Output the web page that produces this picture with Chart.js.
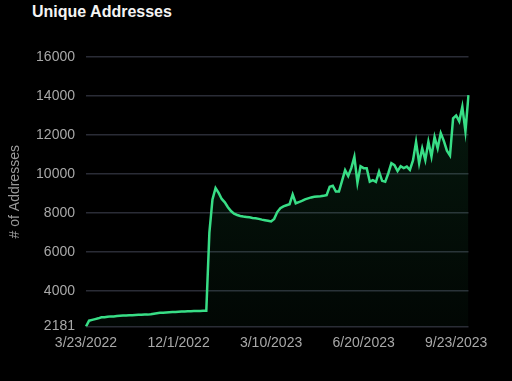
<!DOCTYPE html>
<html>
<head>
<meta charset="utf-8">
<script src="https://cdn.jsdelivr.net/npm/chart.js@4/dist/chart.umd.min.js"></script>
<style>
  html, body { margin: 0; padding: 0; background: #000; }
  body { width: 512px; height: 381px; position: relative; overflow: hidden; }
  #title { position: absolute; left: 32px; top: 3px; line-height: 20px; font: bold 16px "Liberation Sans", Arial, sans-serif; color: #f4f4f4; white-space: nowrap; }
  #wrap { position: absolute; left: 0; top: 0; width: 487px; height: 381px; }
</style>
</head>
<body>
<div id="title">Unique Addresses</div>
<div id="wrap"><canvas id="c"></canvas></div>
<script>
// ---- data ----
const tickLabels = ["3/23/2022", "12/1/2022", "3/10/2023", "6/20/2023", "9/23/2023"];
const pointsPerTick = 30;
const yTicks = [2181, 4000, 6000, 8000, 10000, 12000, 14000, 16000];
const uniqueAddresses = [
  2181, 2480, 2520, 2560, 2600, 2650, 2660, 2680, 2700, 2700,
  2720, 2730, 2740, 2750, 2760, 2760, 2770, 2780, 2780, 2790,
  2790, 2810, 2840, 2860, 2880, 2890, 2900, 2910, 2920, 2930,
  2940, 2950, 2955, 2960, 2965, 2970, 2975, 2980, 2985, 2990,
  7000, 8700, 9280, 9030, 8720, 8550, 8300, 8100, 7970, 7900,
  7850, 7820, 7800, 7780, 7750, 7730, 7700, 7660, 7630, 7600,
  7570, 7700, 8050, 8250, 8340, 8400, 8450, 8950, 8500, 8560,
  8620, 8700, 8750, 8800, 8830, 8850, 8860, 8880, 8920, 9350,
  9400, 9100, 9100, 9650, 10200, 9900, 10300, 10880, 9550, 10400,
  10300, 10300, 9610, 9690, 9600, 10120, 9650, 9600, 10040, 10550,
  10450, 10150, 10400, 10300, 10380, 10210, 10700, 11650, 10550, 11320,
  10720, 11660, 10900, 11900, 11320, 12100, 11700, 11200, 10950, 12850,
  13000, 12700, 13450, 12200, 14050
];

// ---- build date categories between the tick dates ----
function parseDate(s) { const [m, d, y] = s.split('/').map(Number); return Date.UTC(y, m - 1, d); }
function fmtDate(t) { const d = new Date(t); return (d.getUTCMonth() + 1) + '/' + d.getUTCDate() + '/' + d.getUTCFullYear(); }
const DAY = 86400000;
const categories = uniqueAddresses.map((_, i) => {
  const seg = Math.min(Math.floor(i / pointsPerTick), tickLabels.length - 2);
  const a = parseDate(tickLabels[seg]), b = parseDate(tickLabels[seg + 1]);
  const stepDays = (b - a) / DAY / pointsPerTick;
  const j = i - seg * pointsPerTick;
  return fmtDate(a + Math.round(j * stepDays) * DAY);
});

Chart.defaults.font.family = '"Liberation Sans", Arial, Helvetica, sans-serif';
Chart.defaults.font.size = 14;
Chart.defaults.color = '#a8a8a8';

const ctx = document.getElementById('c');
new Chart(ctx, {
  type: 'line',
  data: {
    labels: categories,
    datasets: [{
      data: uniqueAddresses,
      borderColor: '#38de86',
      borderWidth: 2.5,
      pointRadius: 0,
      tension: 0,
      fill: 'start',
      backgroundColor: (c) => {
        const area = c.chart.chartArea;
        if (!area) return 'rgba(20,60,35,0.5)';
        const g = c.chart.ctx.createLinearGradient(0, area.top, 0, area.bottom);
        g.addColorStop(0, 'rgba(40,170,95,0.16)');
        g.addColorStop(1, 'rgba(40,170,95,0.04)');
        return g;
      }
    }]
  },
  options: {
    responsive: true,
    maintainAspectRatio: false,
    animation: false,
    layout: { padding: { top: 57, right: 18.5, bottom: 24.5, left: 0 } },
    plugins: { legend: { display: false }, tooltip: { enabled: false }, title: { display: false } },
    scales: {
      x: {
        type: 'category',
        offset: false,
        grid: { display: false, drawTicks: false },
        border: { display: false },
        ticks: {
          autoSkip: false,
          maxRotation: 0,
          minRotation: 0,
          padding: 8,
          color: '#a8a8a8',
          callback: function (v, i) { return (i % pointsPerTick === 0) ? categories[i] : ''; }
        },
        afterFit: (s) => { s.height = 30; }
      },
      y: {
        min: yTicks[0],
        max: yTicks[yTicks.length - 1],
        grid: { color: '#2a2c36', lineWidth: 1.5, drawTicks: false },
        border: { display: false },
        ticks: { padding: 11, color: '#a8a8a8', callback: (v) => String(v) },
        afterBuildTicks: (s) => { s.ticks = yTicks.map(v => ({ value: v })); },
        title: { display: true, text: '# of Addresses', color: '#9a9a9a', font: { size: 14 }, padding: { top: 7, bottom: 0 } },
        afterFit: (s) => { s.width = 86; }
      }
    }
  }
});
</script>
</body>
</html>
